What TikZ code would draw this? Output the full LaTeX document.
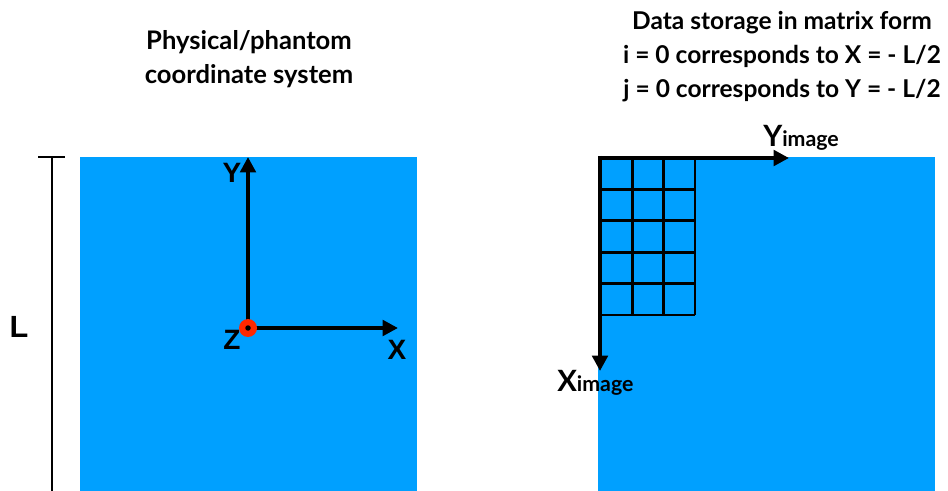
\documentclass[tikz,border=0pt]{standalone}
\usepackage{fontspec}
\setmainfont{Lato}
\newfontfamily\arialfont{Liberation Sans}
\usetikzlibrary{arrows.meta}
\definecolor{phantomblue}{RGB}{0,160,255}
\definecolor{originred}{RGB}{255,40,0}
\tikzset{
  square/.style={fill=phantomblue, draw=none, inner sep=0pt, anchor=north west, minimum width=337*0.75pt, minimum height=335*0.75pt},
  axis/.style={line width=3pt, -{Triangle[length=11.5pt,width=11.5pt]}},
  gridline/.style={line width=2.1pt},
  title/.style={font=\fontsize{19.2}{25.5}\selectfont\bfseries, align=center},
  axlabel/.style={font=\arialfont\fontsize{21}{24}\selectfont\bfseries, inner sep=0pt},
  imglabel/.style={font=\fontsize{22}{24}\selectfont\bfseries, inner sep=0pt, anchor=base west},
}
\begin{document}
\begin{tikzpicture}[x=0.75pt,y=-0.75pt]
\useasboundingbox (0,0) rectangle (948,491);
% squares
\node[square] (sqL) at (80,157) {};
\node[square] (sqR) at (598,157) {};
% titles
\node[title] (titleL) at (249,59) {Physical/phantom\\coordinate system};
\node[title, font=\fontsize{18.4}{25.5}\selectfont\bfseries] (titleR) at (782,57) {Data storage in matrix form\\i = 0 corresponds to X = - L/2\\j = 0 corresponds to Y = - L/2};
% ruler
\coordinate (rtop) at (52,157);
\coordinate (rbot) at (52,491);
\coordinate (tickL) at (38,157);
\coordinate (tickR) at (65,157);
\draw[line width=1.6pt] (rtop) -- (rbot);
\draw[line width=1.6pt] (tickL) -- (tickR);
\node[font=\arialfont\fontsize{23}{24}\selectfont\bfseries, inner sep=0pt] (Llab) at (19,327) {L};
% physical axes
\coordinate (O) at (248,328);
\coordinate (Ytip) at (248,157);
\coordinate (Xtip) at (398,328);
\draw[axis] (O) -- (Ytip);
\draw[axis] (O) -- (Xtip);
\node[circle, fill=originred, minimum size=18*0.75pt, inner sep=0pt] (zring) at (O) {};
\node[circle, fill=black, minimum size=5.5*0.75pt, inner sep=0pt] (zdot) at (O) {};
\node[axlabel] (Ylab) at (232,173) {Y};
\node[axlabel] (Zlab) at (232,340) {Z};
\node[axlabel] (Xlab) at (397,350) {X};
% grid
\foreach \c in {0,...,3} {
  \draw[gridline] (601+31.3*\c,158) -- (601+31.3*\c,315);
}
\foreach \r in {0,...,5} {
  \draw[gridline] (600,158+31.4*\r) -- (695,158+31.4*\r);
}
% image axes
\coordinate (Oi) at (600,158);
\coordinate (Yitip) at (789,158);
\coordinate (Xitip) at (600,371);
\draw[axis] ([xshift=-1.5pt]Oi) -- (Yitip);
\draw[axis] ([yshift=1.5pt]Oi) -- (Xitip);
\node[imglabel] (Yilab) at (763,147) {Y\fontsize{16}{17}\selectfont image};
\node[imglabel] (Xilab) at (557,391) {X\fontsize{16}{17}\selectfont image};
\end{tikzpicture}
\end{document}
